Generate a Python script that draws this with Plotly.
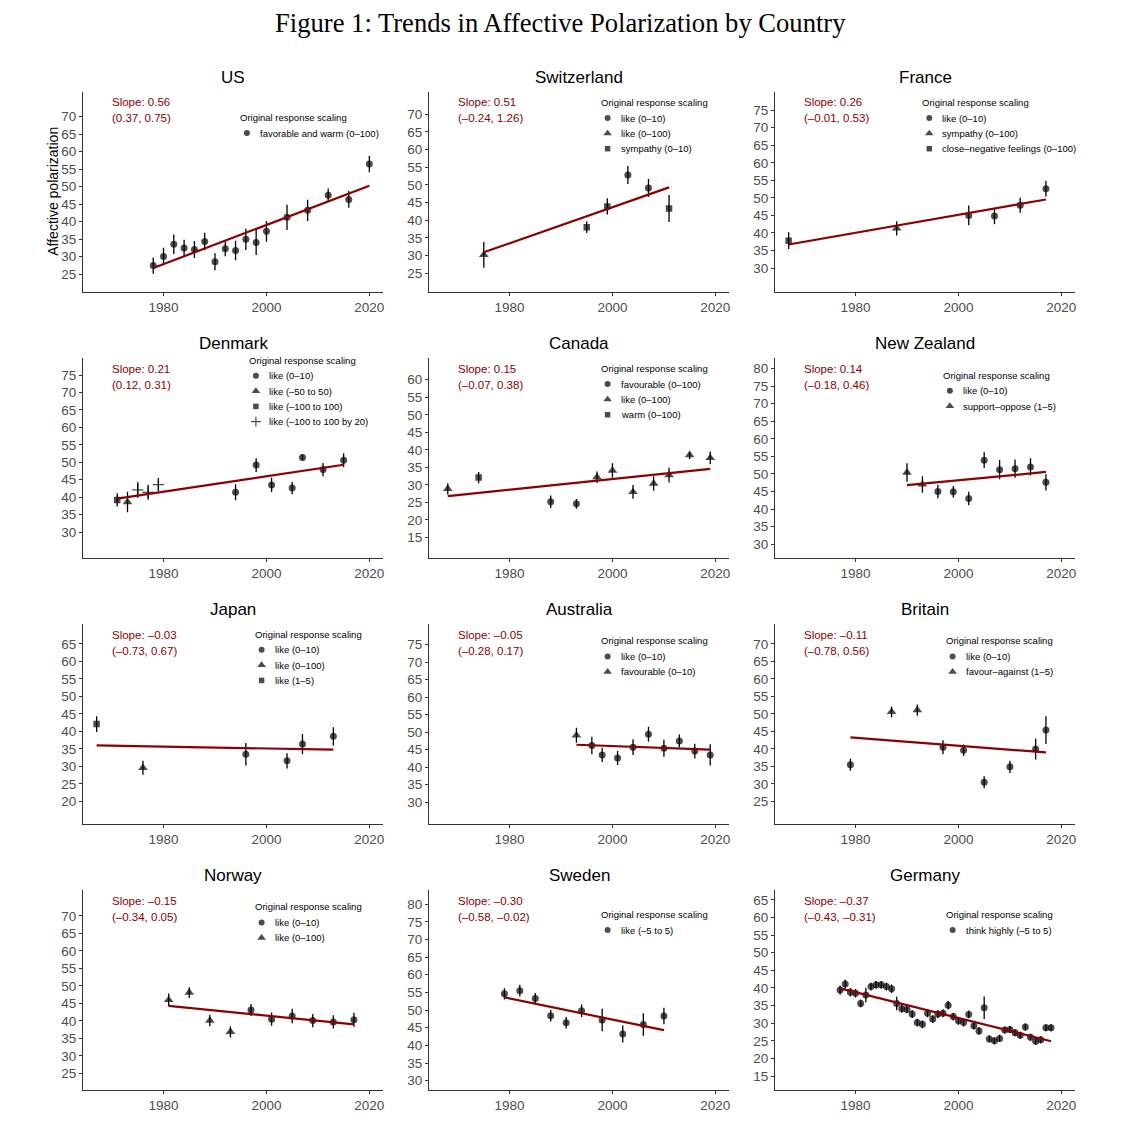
import plotly.graph_objects as go

W, H = 1148, 1134

# ---------------- data ----------------
countries = ["US", "Switzerland", "France", "Denmark", "Canada", "New Zealand",
             "Japan", "Australia", "Britain", "Norway", "Sweden", "Germany"]

slope_labels = ["0.56", "0.51", "0.26", "0.21", "0.15", "0.14",
                "–0.03", "–0.05", "–0.11", "–0.15", "–0.30", "–0.37"]
ci_labels = ["(0.37, 0.75)", "(–0.24, 1.26)", "(–0.01, 0.53)", "(0.12, 0.31)",
             "(–0.07, 0.38)", "(–0.18, 0.46)", "(–0.73, 0.67)", "(–0.28, 0.17)",
             "(–0.78, 0.56)", "(–0.34, 0.05)", "(–0.58, –0.02)", "(–0.43, –0.31)"]

us_years = [1978, 1980, 1982, 1984, 1986, 1988, 1990, 1992, 1994, 1996, 1998, 2000, 2004, 2008, 2012, 2016, 2020]
us_values = [27.4, 30.0, 33.5, 32.4, 32.0, 34.3, 28.5, 32.2, 31.7, 34.9, 34.0, 37.2, 41.2, 43.2, 47.5, 46.3, 56.4]
us_ci = [2.3, 2.5, 2.8, 2.4, 2.4, 2.5, 2.45, 2.15, 2.8, 3.05, 3.55, 2.95, 3.6, 3.05, 1.9, 2.4, 2.3]
us_scale = [0, 0, 0, 0, 0, 0, 0, 0, 0, 0, 0, 0, 0, 0, 0, 0, 0]
us_scales = ["favorable and warm (0–100)"]
us_fit = [26.7, 50.2]

ch_years = [1975, 1995, 1999, 2003, 2007, 2011]
ch_values = [30.2, 38.0, 43.9, 52.8, 49.1, 43.3]
ch_ci = [3.65, 1.65, 2.3, 2.55, 2.55, 3.8]
ch_scale = [1, 2, 2, 0, 0, 2]
ch_scales = ["like (0–10)", "like (0–100)", "sympathy (0–10)"]
ch_fit = [30.9, 49.3]

fr_years = [1967, 1988, 2002, 2007, 2012, 2017]
fr_values = [37.8, 41.3, 45.0, 44.8, 47.9, 52.6]
fr_ci = [2.4, 2.05, 2.8, 2.35, 2.15, 2.2]
fr_scale = [2, 1, 0, 0, 0, 0]
fr_scales = ["like (0–10)", "sympathy (0–100)", "close–negative feelings (0–100)"]
fr_fit = [36.7, 49.55]

dk_years = [1971, 1973, 1975, 1977, 1979, 1994, 1998, 2001, 2005, 2007, 2011, 2015]
dk_values = [39.2, 38.6, 42.1, 41.4, 43.6, 41.4, 49.2, 43.5, 42.6, 51.4, 47.9, 50.6]
dk_ci = [1.9, 2.95, 2.25, 2.15, 1.9, 2.3, 1.95, 2.05, 1.75, 0.8, 1.9, 2.0]
dk_scale = [2, 1, 3, 3, 3, 0, 0, 0, 0, 0, 0, 0]
dk_scales = ["like (0–10)", "like (–50 to 50)", "like (–100 to 100)", "like (–100 to 100 by 20)"]
dk_fit = [39.6, 49.3]

ca_years = [1968, 1974, 1988, 1993, 1997, 2000, 2004, 2008, 2011, 2015, 2019]
ca_values = [28.9, 32.1, 25.2, 24.6, 32.2, 34.1, 28.0, 30.4, 32.8, 38.5, 37.7]
ca_ci = [1.6, 1.6, 1.75, 1.4, 1.65, 2.05, 1.95, 2.05, 2.1, 1.1, 1.8]
ca_scale = [1, 2, 0, 0, 1, 1, 1, 1, 1, 1, 1]
ca_scales = ["favourable (0–100)", "like (0–100)", "warm (0–100)"]
ca_fit = [26.8, 34.6]

nz_years = [1990, 1993, 1996, 1999, 2002, 2005, 2008, 2011, 2014, 2017]
nz_values = [50.4, 47.0, 45.0, 44.9, 43.0, 53.9, 51.2, 51.5, 52.0, 47.6]
nz_ci = [2.65, 2.35, 1.9, 1.65, 1.9, 2.25, 2.75, 2.6, 2.45, 2.3]
nz_scale = [1, 1, 0, 0, 0, 0, 0, 0, 0, 0]
nz_scales = ["like (0–10)", "support–oppose (1–5)"]
nz_fit = [46.8, 50.55]

jp_years = [1967, 1976, 1996, 2004, 2007, 2013]
jp_values = [42.1, 29.6, 33.5, 31.6, 36.4, 38.6]
jp_ci = [2.25, 2.0, 3.2, 2.15, 2.9, 2.6]
jp_scale = [2, 1, 0, 0, 0, 0]
jp_scales = ["like (0–10)", "like (0–100)", "like (1–5)"]
jp_fit = [36.0, 34.8]

au_years = [1993, 1996, 1998, 2001, 2004, 2007, 2010, 2013, 2016, 2019]
au_values = [49.1, 46.2, 43.5, 42.6, 45.7, 49.4, 45.4, 47.5, 44.6, 43.5]
au_ci = [2.15, 2.5, 2.05, 2.0, 2.25, 2.15, 2.45, 1.8, 2.1, 3.05]
au_scale = [1, 0, 0, 0, 0, 0, 0, 0, 0, 0]
au_scales = ["like (0–10)", "favourable (0–10)"]
au_fit = [46.4, 45.0]

gb_years = [1979, 1987, 1992, 1997, 2001, 2005, 2010, 2015, 2017]
gb_values = [35.5, 50.6, 51.1, 40.5, 39.6, 30.5, 34.9, 40.0, 45.4]
gb_ci = [1.7, 1.55, 1.6, 2.0, 1.65, 1.7, 1.75, 3.0, 3.95]
gb_scale = [0, 1, 1, 0, 0, 0, 0, 0, 0]
gb_scales = ["like (0–10)", "favour–against (1–5)"]
gb_fit = [43.3, 39.0]

no_years = [1981, 1985, 1989, 1993, 1997, 2001, 2005, 2009, 2013, 2017]
no_values = [46.0, 48.1, 40.1, 36.9, 43.1, 40.5, 41.4, 40.1, 39.7, 40.3]
no_ci = [1.8, 1.55, 1.65, 1.6, 1.7, 1.9, 2.05, 1.9, 1.9, 2.0]
no_scale = [1, 1, 1, 1, 0, 0, 0, 0, 0, 0]
no_scales = ["like (0–10)", "like (0–100)"]
no_fit = [44.3, 39.0]

se_years = [1979, 1982, 1985, 1988, 1991, 1994, 1998, 2002, 2006, 2010]
se_values = [54.6, 55.5, 53.3, 48.4, 46.4, 49.8, 47.2, 43.2, 45.9, 48.3]
se_ci = [1.6, 1.65, 1.55, 1.65, 1.65, 1.8, 3.2, 2.4, 3.2, 2.35]
se_scale = [0, 0, 0, 0, 0, 0, 0, 0, 0, 0]
se_scales = ["like (–5 to 5)"]
se_fit = [53.6, 44.3]

de_years = [1977, 1978, 1979, 1980, 1981, 1982, 1983, 1984, 1985, 1986, 1987, 1988, 1989, 1990,
            1991, 1992, 1993, 1994, 1995, 1996, 1997, 1998, 1999, 2000, 2001, 2002, 2003, 2004,
            2005, 2006, 2007, 2008, 2009, 2010, 2011, 2012, 2013, 2014, 2015, 2016, 2017, 2018]
de_values = [39.4, 41.1, 38.8, 38.5, 35.6, 38.0, 40.4, 40.9, 40.9, 40.4, 39.8, 35.6, 34.1, 33.9,
             32.6, 30.2, 29.7, 32.8, 31.2, 32.6, 32.8, 35.1, 31.9, 30.7, 30.2, 32.5, 29.3, 27.8,
             34.4, 25.5, 25.0, 25.7, 28.1, 28.2, 27.3, 26.6, 28.9, 26.0, 24.9, 25.3, 28.7, 28.7]
de_ci = [1.3, 1.3, 1.2, 1.2, 1.1, 2.1, 1.1, 1.1, 1.1, 1.1, 1.2, 1.9, 1.1, 1.1,
         1.1, 1.1, 1.1, 1.1, 1.1, 1.1, 1.1, 1.2, 1.1, 1.1, 1.1, 1.1, 1.1, 1.1,
         3.2, 1.0, 1.0, 1.0, 1.0, 1.0, 1.0, 1.0, 1.0, 1.0, 1.0, 1.0, 1.0, 1.0]
de_scale = [0, 0, 0, 0, 0, 0, 0, 0, 0, 0, 0, 0, 0, 0, 0, 0, 0, 0, 0, 0, 0,
            0, 0, 0, 0, 0, 0, 0, 0, 0, 0, 0, 0, 0, 0, 0, 0, 0, 0, 0, 0, 0]
de_scales = ["think highly (–5 to 5)"]
de_fit = [39.9, 24.9]

x_ticks = [1980, 2000, 2020]
y_ticks = [
    [25, 30, 35, 40, 45, 50, 55, 60, 65, 70],
    [25, 30, 35, 40, 45, 50, 55, 60, 65, 70],
    [30, 35, 40, 45, 50, 55, 60, 65, 70, 75],
    [30, 35, 40, 45, 50, 55, 60, 65, 70, 75],
    [15, 20, 25, 30, 35, 40, 45, 50, 55, 60],
    [30, 35, 40, 45, 50, 55, 60, 65, 70, 75, 80],
    [20, 25, 30, 35, 40, 45, 50, 55, 60, 65],
    [30, 35, 40, 45, 50, 55, 60, 65, 70, 75],
    [25, 30, 35, 40, 45, 50, 55, 60, 65, 70],
    [25, 30, 35, 40, 45, 50, 55, 60, 65, 70],
    [30, 35, 40, 45, 50, 55, 60, 65, 70, 75, 80],
    [15, 20, 25, 30, 35, 40, 45, 50, 55, 60, 65],
]

panels = [
    dict(years=us_years, values=us_values, ci=us_ci, scale=us_scale, scales=us_scales, fit=us_fit),
    dict(years=ch_years, values=ch_values, ci=ch_ci, scale=ch_scale, scales=ch_scales, fit=ch_fit),
    dict(years=fr_years, values=fr_values, ci=fr_ci, scale=fr_scale, scales=fr_scales, fit=fr_fit),
    dict(years=dk_years, values=dk_values, ci=dk_ci, scale=dk_scale, scales=dk_scales, fit=dk_fit),
    dict(years=ca_years, values=ca_values, ci=ca_ci, scale=ca_scale, scales=ca_scales, fit=ca_fit),
    dict(years=nz_years, values=nz_values, ci=nz_ci, scale=nz_scale, scales=nz_scales, fit=nz_fit),
    dict(years=jp_years, values=jp_values, ci=jp_ci, scale=jp_scale, scales=jp_scales, fit=jp_fit),
    dict(years=au_years, values=au_values, ci=au_ci, scale=au_scale, scales=au_scales, fit=au_fit),
    dict(years=gb_years, values=gb_values, ci=gb_ci, scale=gb_scale, scales=gb_scales, fit=gb_fit),
    dict(years=no_years, values=no_values, ci=no_ci, scale=no_scale, scales=no_scales, fit=no_fit),
    dict(years=se_years, values=se_values, ci=se_ci, scale=se_scale, scales=se_scales, fit=se_fit),
    dict(years=de_years, values=de_values, ci=de_ci, scale=de_scale, scales=de_scales, fit=de_fit),
]

# ---------------- layout / style ----------------
X_RANGE = [1964.35, 2022.65]
Y_RANGES = [[20.0, 77.0], [19.8, 76.3], [23.3, 80.2], [22.7, 79.9], [9.3, 66.2], [26.2, 83.0],
            [13.7, 70.7], [23.9, 80.9], [18.7, 75.7], [20.4, 77.4], [27.5, 84.0], [11.2, 67.8]]
LEGEND_POS = [(156.3, 25.3), (171, 10.3), (146.7, 10.3), (165.3, 2.0), (171, 10.3), (167.3, 17.0),
              (171, 10.0), (171, 16.7), (170, 16.7), (171, 16.7), (171, 24.3), (170, 24.3)]
COL_LEFT = [83, 429, 775]
ROW_TOP = [92, 358, 624, 890]
PW, PH = 300, 199.5

FONT = "Liberation Sans, Arial, Helvetica, sans-serif"
DARKRED = "#8B0000"
AXCOL = "#333333"
SYMBOLS = ["circle", "triangle-up", "square", "cross-thin"]
SIZES = [7, 8.5, 6.5, 8]
LINEW = [0, 0, 0, 1.2]

fig = go.Figure()
annotations = []
layout_axes = {}

leg_x, leg_y, leg_sym, leg_size, leg_lw = [], [], [], [], []

for i, p in enumerate(panels):
    r, c = divmod(i, 3)
    sfx = "" if i == 0 else str(i + 1)
    x0, y0 = COL_LEFT[c], ROW_TOP[r]
    layout_axes[f"xaxis{sfx}"] = dict(
        domain=[x0 / W, (x0 + PW) / W], anchor=f"y{sfx}", range=X_RANGE,
        tickvals=x_ticks, ticks="outside", ticklen=3, tickwidth=1, tickcolor=AXCOL,
        showline=True, linecolor=AXCOL, linewidth=1, showgrid=False, zeroline=False,
        tickfont=dict(family=FONT, size=13.5, color="#4D4D4D"), fixedrange=True)
    layout_axes[f"yaxis{sfx}"] = dict(
        domain=[1 - (y0 + PH) / H, 1 - y0 / H], anchor=f"x{sfx}", range=Y_RANGES[i],
        tickvals=y_ticks[i], ticks="outside", ticklen=3, tickwidth=1, tickcolor=AXCOL,
        showline=True, linecolor=AXCOL, linewidth=1, showgrid=False, zeroline=False,
        tickfont=dict(family=FONT, size=13.5, color="#4D4D4D"), fixedrange=True)

    # data points with error bars
    fig.add_trace(go.Scatter(
        x=p["years"], y=p["values"], mode="markers", xaxis=f"x{sfx}", yaxis=f"y{sfx}",
        marker=dict(symbol=[SYMBOLS[k] for k in p["scale"]],
                    size=[SIZES[k] for k in p["scale"]],
                    color="black",
                    line=dict(color="black", width=[LINEW[k] for k in p["scale"]])),
        error_y=dict(type="data", array=p["ci"], visible=True, color="black",
                     thickness=1.3, width=0),
        showlegend=False, hoverinfo="skip"))
    # fitted line
    fig.add_trace(go.Scatter(
        x=[p["years"][0], p["years"][-1]], y=p["fit"], mode="lines",
        xaxis=f"x{sfx}", yaxis=f"y{sfx}",
        line=dict(color=DARKRED, width=2.2), showlegend=False, hoverinfo="skip"))

    # panel title
    annotations.append(dict(
        text=countries[i], xref="paper", yref="paper", x=(x0 + PW / 2) / W,
        y=1 - (y0 - 14.8) / H, xanchor="center", yanchor="middle", showarrow=False,
        font=dict(family=FONT, size=17, color="black")))
    # slope annotations
    for k, (txt, dy) in enumerate([("Slope: " + slope_labels[i], 10.5), (ci_labels[i], 26.5)]):
        annotations.append(dict(
            text=txt, xref=f"x{sfx}", yref=f"y{sfx} domain", x=1970, y=1 - dy / PH,
            xanchor="left", yanchor="middle", showarrow=False, xshift=-2,
            font=dict(family=FONT, size=11.5, color=DARKRED)))

    # legend
    lx, ly = LEGEND_POS[i]
    tx, ty = x0 + lx, y0 + ly
    annotations.append(dict(
        text="Original response scaling", xref="paper", yref="paper", x=(tx - 1.5) / W, y=1 - ty / H,
        xanchor="left", yanchor="middle", showarrow=False,
        font=dict(family=FONT, size=9.5, color="black")))
    for j, lab in enumerate(p["scales"]):
        iy = ty + 15.8 + 15.3 * j
        leg_x.append(tx + 7.6)
        leg_y.append(iy)
        leg_sym.append(SYMBOLS[j])
        leg_size.append(SIZES[j] - 1)
        leg_lw.append(LINEW[j])
        annotations.append(dict(
            text=lab, xref="paper", yref="paper", x=(tx + 18.5) / W, y=1 - iy / H,
            xanchor="left", yanchor="middle", showarrow=False,
            font=dict(family=FONT, size=9.5, color="black")))

# legend key symbols on a full-page pixel overlay
layout_axes["xaxis13"] = dict(domain=[0, 1], range=[0, W], visible=False, anchor="y13", fixedrange=True)
layout_axes["yaxis13"] = dict(domain=[0, 1], range=[H, 0], visible=False, anchor="x13", fixedrange=True)
fig.add_trace(go.Scatter(
    x=leg_x, y=leg_y, mode="markers", xaxis="x13", yaxis="y13",
    marker=dict(symbol=leg_sym, size=leg_size, color="black",
                line=dict(color="black", width=leg_lw)),
    showlegend=False, hoverinfo="skip"))

# y-axis title (US panel) and figure title
annotations.append(dict(
    text="Affective polarization", xref="paper", yref="paper", x=53 / W,
    y=1 - (ROW_TOP[0] + PH / 2) / H, xanchor="center", yanchor="middle", textangle=-90,
    showarrow=False, font=dict(family=FONT, size=14, color="black")))
annotations.append(dict(
    text="Figure 1: Trends in Affective Polarization by Country", xref="paper", yref="paper",
    x=560.5 / W, y=1 - 23 / H, xanchor="center", yanchor="middle", showarrow=False,
    font=dict(family="Liberation Serif, Times New Roman, serif", size=26.6, color="black")))

fig.update_layout(
    width=W, height=H, margin=dict(l=0, r=0, t=0, b=0),
    paper_bgcolor="white", plot_bgcolor="rgba(0,0,0,0)",
    annotations=annotations, showlegend=False, **layout_axes)

fig.write_html("out.html", config={"displayModeBar": False},
               post_script="document.body.style.margin='0';")
